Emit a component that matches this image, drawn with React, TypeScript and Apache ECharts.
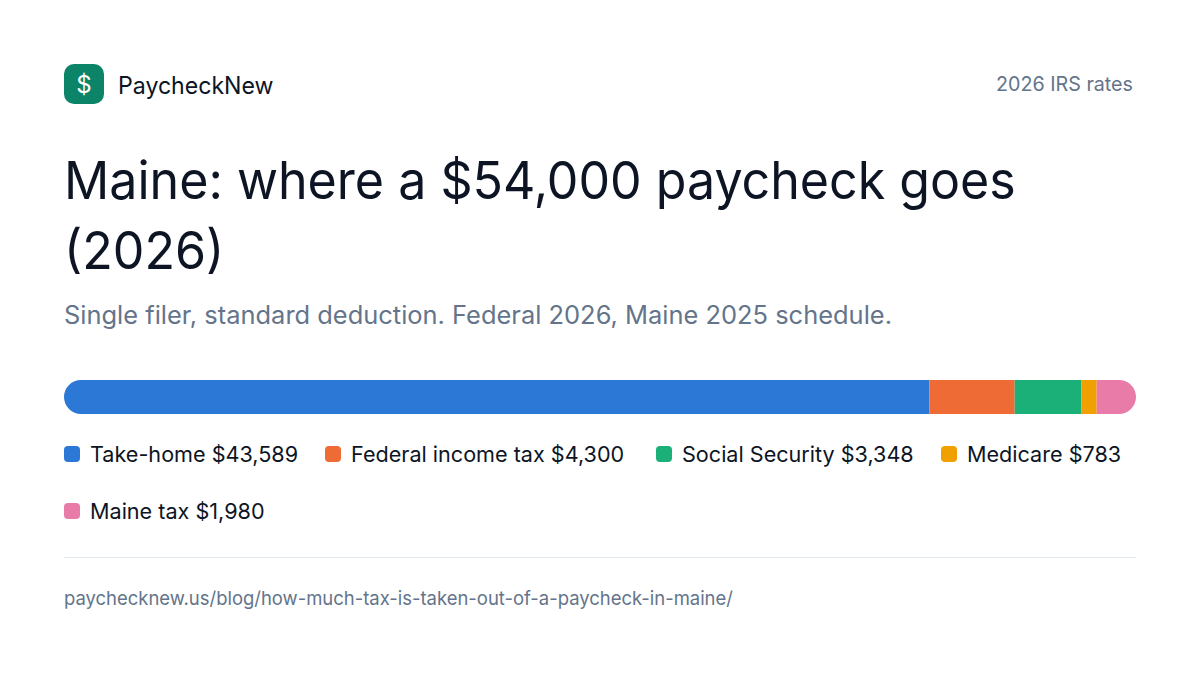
import React, { useEffect, useRef } from "react";
import * as echarts from "echarts";

const categories = ["Paycheck"];
const names = ["Take-home", "Federal income tax", "Social Security", "Medicare", "Maine tax"];
const amounts = [43589, 4300, 3348, 783, 1980];
const colors = ["#2b78d6", "#ee6b35", "#1bb077", "#f0a000", "#e97ba8"];
const total = 54000;

const FONT = "Inter";
const INK = "#0d1524";
const legendLefts = [64, 325, 656, 941, 64];
const legendTops = [443, 443, 443, 443, 500];

const fmt = (n: number) => "$" + n.toLocaleString("en-US");
const legendFormatter = (name: string) => `${name} ${fmt(amounts[names.indexOf(name)])}`;

export default function App() {
  const ref = useRef<HTMLDivElement>(null);
  useEffect(() => {
    const chart = echarts.init(ref.current!, null, { renderer: "svg" });
    const legendBase = {
      orient: "horizontal" as const,
      padding: 0,
      itemWidth: 16,
      itemHeight: 16,
      icon: "path://M4 0H12A4 4 0 0 1 16 4V12A4 4 0 0 1 12 16H4A4 4 0 0 1 0 12V4A4 4 0 0 1 4 0Z",
      formatter: legendFormatter,
      textStyle: { fontFamily: FONT, fontSize: 21.6, color: INK, padding: [0, 0, 4, 5] },
    };
    chart.setOption({
      animation: false,
      backgroundColor: "#ffffff",
      grid: { left: 64, top: 380, width: 1072, height: 34 },
      xAxis: { type: "value", min: 0, max: total, show: false },
      yAxis: { type: "category", data: categories, show: false },
      legend: names.map((name, i) => ({
        ...legendBase,
        left: legendLefts[i],
        top: legendTops[i],
        data: [name],
      })),
      series: names.map((name, i) => ({
        name,
        type: "bar",
        stack: "pay",
        barWidth: 34,
        data: [amounts[i]],
        itemStyle: {
          color: colors[i],
          borderRadius:
            i === 0 ? [17, 0, 0, 17] : i === names.length - 1 ? [0, 17, 17, 0] : 0,
        },
      })),
      graphic: [
        { type: "rect", shape: { x: 64, y: 64, width: 40, height: 40, r: 10 }, style: { fill: "#0b8468" } },
        {
          type: "text",
          x: 84,
          y: 84,
          style: { text: "$", fill: "#ffffff", font: `400 24px ${FONT}`, align: "center", verticalAlign: "middle" },
        },
        {
          type: "text",
          x: 118,
          y: 85,
          scaleX: 0.963,
          style: { text: "PaycheckNew", fill: INK, font: `400 24px ${FONT}`, verticalAlign: "middle" },
        },
        {
          type: "text",
          x: 1133,
          y: 84,
          scaleX: 0.985,
          style: { text: "2026 IRS rates", fill: "#64748b", font: `400 20px ${FONT}`, align: "right", verticalAlign: "middle" },
        },
        {
          type: "text",
          x: 64,
          y: 180,
          scaleX: 0.9635,
          style: { text: "Maine: where a $54,000 paycheck goes", fill: INK, font: `400 52px ${FONT}`, verticalAlign: "middle" },
        },
        {
          type: "text",
          x: 64,
          y: 250,
          scaleX: 0.9635,
          style: { text: "(2026)", fill: INK, font: `400 52px ${FONT}`, verticalAlign: "middle" },
        },
        {
          type: "text",
          x: 64,
          y: 315,
          scaleX: 1.018,
          style: { text: "Single filer, standard deduction. Federal 2026, Maine 2025 schedule.", fill: "#64748b", font: `400 25px ${FONT}`, verticalAlign: "middle" },
        },
        { type: "line", shape: { x1: 64, y1: 557.5, x2: 1136, y2: 557.5 }, style: { stroke: "#e2e8f0", lineWidth: 1 } },
        {
          type: "text",
          x: 64,
          y: 598,
          scaleX: 0.972,
          style: { text: "paychecknew.us/blog/how-much-tax-is-taken-out-of-a-paycheck-in-maine/", fill: "#64748b", font: `400 19px ${FONT}`, verticalAlign: "middle" },
        },
      ],
    });
    return () => chart.dispose();
  }, []);
  return <div ref={ref} style={{ width: 1200, height: 675, position: "absolute", left: 0, top: 0 }} />;
}
